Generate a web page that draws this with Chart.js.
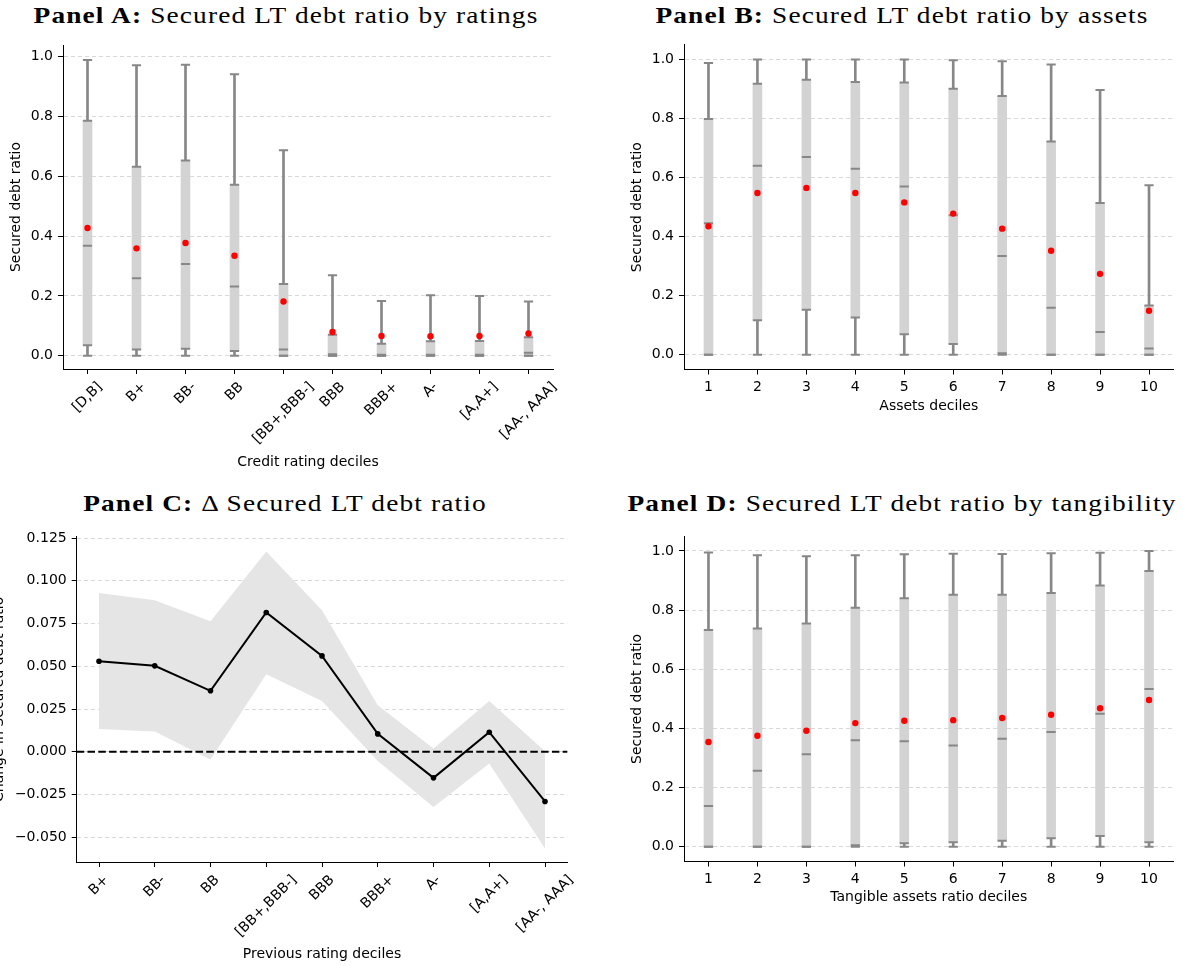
<!DOCTYPE html>
<html>
<head>
<meta charset="utf-8">
<script src="https://cdn.jsdelivr.net/npm/chart.js@4.4.1/dist/chart.umd.min.js"></script>
<style>
  body { margin: 0; background: #fff; width: 1183px; height: 966px; position: relative; overflow: hidden; }
  canvas { position: absolute; }
  .ttl { position: absolute; width: 640px; text-align: center; white-space: nowrap;
         font-family: "Liberation Serif", serif; font-size: 24px; line-height: 28px; letter-spacing: 1px; color: #000;
         transform: scaleX(1.14); transform-origin: 50% 50%; }
</style>
</head>
<body>
<div class="ttl" style="left:-34px; top:1px;"><b>Panel A:</b> Secured LT debt ratio by ratings</div>
<div class="ttl" style="left:582px; top:1px;"><b>Panel B:</b> Secured LT debt ratio by assets</div>
<div class="ttl" style="left:-35px; top:489px;"><b>Panel C:</b> Δ Secured LT debt ratio</div>
<div class="ttl" style="left:582px; top:489px;"><b>Panel D:</b> Secured LT debt ratio by tangibility</div>
<canvas id="panelA"></canvas>
<canvas id="panelB"></canvas>
<canvas id="panelC"></canvas>
<canvas id="panelD"></canvas>
<script>
// ---- Panel A: ratings ----
const ratingLabels = ['[D,B]', 'B+', 'BB-', 'BB', '[BB+,BBB-]', 'BBB', 'BBB+', 'A-', '[A,A+]', '[AA-, AAA]'];
const aMin  = [0, 0, 0, 0, 0, 0, 0, 0, 0, 0];
const aLow  = [0.035, 0.021, 0.023, 0.016, 0.0, 0.0, 0.0, 0.0, 0.0, 0.0];
const aMed  = [0.368, 0.259, 0.307, 0.231, 0.021, 0.005, 0.003, 0.003, 0.003, 0.010];
const aHigh = [0.786, 0.632, 0.653, 0.572, 0.240, 0.070, 0.040, 0.048, 0.049, 0.062];
const aMax  = [0.989, 0.971, 0.973, 0.941, 0.687, 0.269, 0.183, 0.202, 0.200, 0.181];
const aMean = [0.427, 0.359, 0.377, 0.334, 0.181, 0.079, 0.066, 0.065, 0.066, 0.074];

// ---- Panel B: assets deciles ----
const decileLabels = ['1', '2', '3', '4', '5', '6', '7', '8', '9', '10'];
const bMin  = [0, 0, 0, 0, 0, 0, 0, 0, 0, 0];
const bLow  = [0, 0.117, 0.152, 0.126, 0.069, 0.036, 0.005, 0, 0, 0];
const bMed  = [0.445, 0.640, 0.670, 0.630, 0.570, 0.472, 0.334, 0.159, 0.077, 0.021];
const bHigh = [0.798, 0.918, 0.931, 0.924, 0.922, 0.901, 0.876, 0.722, 0.514, 0.167];
const bMax  = [0.988, 1.0, 1.0, 1.0, 1.0, 0.997, 0.994, 0.983, 0.897, 0.574];
const bMean = [0.435, 0.548, 0.565, 0.548, 0.516, 0.478, 0.427, 0.352, 0.274, 0.149];

// ---- Panel C: change by previous rating ----
const prevLabels = ['B+', 'BB-', 'BB', '[BB+,BBB-]', 'BBB', 'BBB+', 'A-', '[A,A+]', '[AA-, AAA]'];
const cChange = [0.0530, 0.0503, 0.0357, 0.0815, 0.0561, 0.0105, -0.0152, 0.0115, -0.0290];
const cUpper  = [0.0929, 0.0887, 0.0764, 0.1171, 0.0828, 0.0273, 0.0019, 0.0298, 0.0004];
const cLower  = [0.0134, 0.0119, -0.0045, 0.0454, 0.0298, -0.0053, -0.0322, -0.0068, -0.0565];

// ---- Panel D: tangibility deciles ----
const dMin  = [0, 0, 0, 0, 0, 0, 0, 0, 0, 0];
const dLow  = [0, 0, 0, 0.005, 0.012, 0.015, 0.020, 0.029, 0.036, 0.015];
const dMed  = [0.138, 0.257, 0.313, 0.360, 0.357, 0.342, 0.365, 0.388, 0.450, 0.533];
const dHigh = [0.733, 0.738, 0.755, 0.808, 0.840, 0.852, 0.852, 0.858, 0.883, 0.932];
const dMax  = [0.995, 0.986, 0.982, 0.986, 0.989, 0.991, 0.990, 0.992, 0.994, 1.0];
const dMean = [0.354, 0.375, 0.392, 0.418, 0.426, 0.428, 0.435, 0.446, 0.468, 0.496];

// tick values
const ratioTicks = [0, 0.2, 0.4, 0.6, 0.8, 1.0];
const changeTicks = [-0.05, -0.025, 0, 0.025, 0.05, 0.075, 0.1, 0.125];

const GREY = '#878787';
const BOX = '#d3d3d3';
const GRID = '#d9d9d9';

Chart.defaults.font.family = '"DejaVu Sans", sans-serif';
Chart.defaults.font.size = 14;
Chart.defaults.color = '#000';
Chart.defaults.animation = false;

// put a canvas on the page and return the layout bits so the plot area lands where we want
function setupCanvas(id, c, area) {
  const el = document.getElementById(id);
  el.width = c.w;
  el.height = c.h;
  el.style.left = c.x + 'px';
  el.style.top = c.y + 'px';
  return {
    el,
    padding: { left: 0, top: area.T - c.y, right: c.x + c.w - area.R, bottom: 0 },
    yWidth: area.L - c.x,
    xHeight: c.y + c.h - area.B
  };
}

function yAxis(f, min, max, ticks, fmt, text, titlePad) {
  return {
    type: 'linear', position: 'left', min, max,
    afterBuildTicks: ax => { ax.ticks = ticks.map(v => ({ value: v })); },
    afterFit: ax => { ax.width = f.yWidth; },
    ticks: { padding: 5, callback: v => fmt(v) },
    grid: { color: GRID, lineWidth: 1, tickColor: '#000', tickLength: 5, tickWidth: 1 },
    border: { display: true, color: '#000', width: 1, dash: [4, 3] },
    title: { display: true, text, padding: { top: titlePad, bottom: 0 } }
  };
}

function xAxisGrid() {
  return { display: true, offset: false, drawOnChartArea: false, tickColor: '#000', tickLength: 5, tickWidth: 1 };
}

// rotated tick labels, centred on the tick like matplotlib rotation=45
const rotLabels = {
  id: 'rotLabels',
  afterDraw(chart, args, opts) {
    if (!opts.labels) return;
    const ctx = chart.ctx;
    const sx = chart.scales.x;
    const top = chart.chartArea.bottom + 10;
    ctx.save();
    ctx.font = '14px "DejaVu Sans"';
    ctx.fillStyle = '#000';
    ctx.textAlign = 'center';
    ctx.textBaseline = 'middle';
    opts.labels.forEach((lab, i) => {
      const w = ctx.measureText(lab).width;
      const half = (w + 16.3) * Math.SQRT1_2 / 2;
      ctx.save();
      ctx.translate(sx.getPixelForValue(i), top + half);
      ctx.rotate(-Math.PI / 4);
      ctx.fillText(lab, 0, 0);
      ctx.restore();
    });
    ctx.restore();
  }
};

function boxSets(lo, q1, med, q3, hi, mean) {
  const cap = data => ({
    type: 'line', data, showLine: false, pointStyle: 'line', pointRadius: 4.6,
    borderColor: GREY, borderWidth: 2, order: 2
  });
  return [
    { type: 'bar', data: lo.map((v, i) => [v, hi[i]]), backgroundColor: GREY, barThickness: 2, grouped: false, order: 4 },
    { type: 'bar', data: q1.map((v, i) => [v, q3[i]]), backgroundColor: BOX, barThickness: 9, grouped: false, order: 3 },
    cap(lo), cap(hi), cap(q1), cap(q3), cap(med),
    { type: 'line', data: mean, showLine: false, pointStyle: 'circle', pointRadius: 3.2,
      backgroundColor: '#ff0000', borderColor: '#ff0000', borderWidth: 0, order: 0 }
  ];
}

function boxPanel(id, c, area, labels, sets, yMin, yMax, yTitlePad, xTitle, xTitlePad, rotated) {
  const f = setupCanvas(id, c, area);
  return new Chart(f.el, {
    type: 'bar',
    data: { labels, datasets: sets },
    options: {
      responsive: false,
      layout: { padding: f.padding },
      plugins: { legend: { display: false }, tooltip: { enabled: false },
                 rotLabels: { labels: rotated ? labels : null } },
      scales: {
        x: {
          type: 'category', offset: true,
          afterFit: ax => { ax.height = f.xHeight; },
          ticks: { display: !rotated, maxRotation: 0, minRotation: 0, padding: 4, autoSkip: false },
          grid: xAxisGrid(),
          border: { display: true, color: '#000', width: 1 },
          title: { display: true, text: xTitle, padding: { top: 0, bottom: xTitlePad } }
        },
        y: yAxis(f, yMin, yMax, ratioTicks, v => v.toFixed(1), 'Secured debt ratio', yTitlePad)
      }
    },
    plugins: [rotLabels]
  });
}

boxPanel('panelA', { x: 0, y: 30, w: 575, h: 450 }, { L: 63, R: 553, T: 45, B: 369 },
  ratingLabels, boxSets(aMin, aLow, aMed, aHigh, aMax, aMean), -0.0445, 1.039, 7.6,
  'Credit rating deciles', 9.6, true);

boxPanel('panelB', { x: 590, y: 30, w: 593, h: 450 }, { L: 684, R: 1173.5, T: 44.7, B: 369.5 },
  decileLabels, boxSets(bMin, bLow, bMed, bHigh, bMax, bMean), -0.05, 1.05, 38.6,
  'Assets deciles', 65.6, false);

boxPanel('panelD', { x: 590, y: 520, w: 593, h: 446 }, { L: 684, R: 1173.5, T: 536.2, B: 861.5 },
  decileLabels, boxSets(dMin, dLow, dMed, dHigh, dMax, dMean), -0.05, 1.05, 38.6,
  'Tangible assets ratio deciles', 60.6, false);

// dashed zero reference line across the whole plot area
const zeroLine = {
  id: 'zeroLine',
  afterDatasetsDraw(chart) {
    const { ctx, chartArea: a, scales: { y } } = chart;
    const py = y.getPixelForValue(0);
    ctx.save();
    ctx.strokeStyle = '#000';
    ctx.lineWidth = 2;
    ctx.setLineDash([7.5, 3.3]);
    ctx.beginPath();
    ctx.moveTo(a.left, py);
    ctx.lineTo(a.right, py);
    ctx.stroke();
    ctx.restore();
  }
};

const fc = setupCanvas('panelC', { x: -20, y: 520, w: 600, h: 446 }, { L: 76.7, R: 567.3, T: 536.7, B: 862 });
const pts = arr => arr.map((v, i) => ({ x: i, y: v }));
new Chart(fc.el, {
  type: 'line',
  data: {
    datasets: [
      { data: pts(cUpper), borderWidth: 0, pointRadius: 0, fill: '+1', backgroundColor: '#e5e5e5', order: 2 },
      { data: pts(cLower), borderWidth: 0, pointRadius: 0, fill: false, order: 2 },
      { data: pts(cChange), borderColor: '#000', borderWidth: 2, pointRadius: 2.8,
        pointBackgroundColor: '#000', pointBorderWidth: 0, fill: false, order: 0 }
    ]
  },
  options: {
    responsive: false,
    layout: { padding: fc.padding },
    plugins: { legend: { display: false }, tooltip: { enabled: false }, rotLabels: { labels: prevLabels } },
    scales: {
      x: {
        type: 'linear', min: -0.4, max: 8.4,
        afterBuildTicks: ax => { ax.ticks = prevLabels.map((_, i) => ({ value: i })); },
        afterFit: ax => { ax.height = fc.xHeight; },
        ticks: { display: false },
        grid: xAxisGrid(),
        border: { display: true, color: '#000', width: 1 },
        title: { display: true, text: 'Previous rating deciles', padding: { top: 0, bottom: 3.6 } }
      },
      y: yAxis(fc, -0.0644, 0.1258, changeTicks,
        v => (v < 0 ? '\u2212' : '') + Math.abs(v).toFixed(3), 'Change in Secured debt ratio', 10.6)
    }
  },
  plugins: [rotLabels, zeroLine]
});
</script>
</body>
</html>
